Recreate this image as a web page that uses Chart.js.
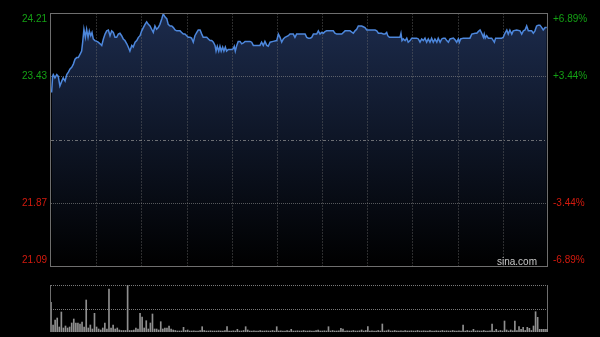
<!DOCTYPE html>
<html>
<head>
<meta charset="utf-8">
<script src="https://cdn.jsdelivr.net/npm/chart.js@4.4.0/dist/chart.umd.min.js"></script>
<style>
  html, body { margin: 0; padding: 0; background: #000; }
  .wrap { position: relative; width: 600px; height: 337px; background: #000; overflow: hidden; }
  #priceChart { position: absolute; left: 0; top: 0; }
  #volChart { position: absolute; left: 0; top: 275px; }
</style>
</head>
<body>
<div class="wrap">
  <canvas id="priceChart" width="600" height="275"></canvas>
  <canvas id="volChart" width="600" height="62"></canvas>
</div>
<script>
//------------data--------------------
const prevClose = 22.65;
const priceTicks = [21.09, 21.87, 22.65, 23.43, 24.21];
const sessionMinutes = 240;
const xDivisions = 11;

// minute of the session / last price
const minutes = [
  0.3, 0.8, 1.1, 1.9, 2.8, 3.5, 4.3, 5.2, 5.9, 6.8, 7.6, 8.4, 9.2, 10.0, 10.8, 11.6, 12.4, 13.2, 14.0, 14.8,
  15.3, 15.9, 16.6, 17.2, 17.9, 18.5, 19.2, 19.8, 20.4, 21.2, 22.1, 22.8, 23.7, 24.5, 25.3, 26.1, 26.9, 27.7, 28.5, 29.3,
  30.1, 30.9, 31.7, 32.5, 33.3, 34.1, 34.9, 35.7, 36.6, 37.3, 38.1, 39.0, 39.7, 40.6, 41.4, 42.2, 43.0, 43.8, 44.6, 45.4,
  46.2, 47.0, 47.8, 48.6, 49.4, 50.2, 51.0, 51.8, 52.6, 53.5, 54.2, 55.1, 55.9, 56.6, 57.5, 58.3, 59.1, 59.9, 60.7, 62.3,
  63.1, 63.9, 64.7, 65.5, 66.3, 67.1, 67.9, 68.7, 69.5, 70.4, 71.1, 72.0, 72.8, 73.5, 75.2, 76.0, 76.8, 77.6, 78.4, 79.2,
  79.7, 80.3, 81.0, 81.6, 82.2, 82.9, 83.5, 84.2, 84.8, 85.6, 87.3, 88.0, 88.5, 89.0, 89.7, 90.4, 91.3, 92.1, 92.9, 93.7,
  96.1, 96.9, 97.7, 100.1, 100.9, 101.7, 102.5, 103.3, 104.2, 104.9, 105.8, 107.3, 109.0, 109.8, 110.6, 111.4, 112.2, 113.0, 114.6, 115.4,
  117.0, 117.8, 118.6, 122.7, 123.5, 124.3, 125.1, 125.9, 126.7, 128.3, 129.1, 129.9, 130.7, 131.5, 132.3, 133.1, 136.3, 137.1, 138.0, 140.4,
  141.2, 142.0, 144.4, 146.0, 146.8, 147.6, 148.4, 150.0, 150.8, 151.6, 152.5, 156.5, 157.3, 158.1, 159.7, 160.5, 161.3, 162.1, 162.6, 163.4,
  168.5, 169.0, 169.5, 170.1, 171.0, 171.8, 172.5, 173.4, 174.2, 176.6, 177.4, 178.2, 179.0, 179.8, 180.6, 181.4, 182.2, 183.0, 183.8, 184.6,
  185.4, 186.3, 187.0, 187.9, 188.7, 189.4, 190.3, 191.1, 191.9, 192.7, 194.3, 195.1, 195.9, 196.7, 197.2, 197.8, 199.1, 202.3, 203.2, 204.8,
  205.6, 206.3, 207.2, 208.0, 208.8, 209.2, 209.7, 210.4, 211.2, 212.8, 213.6, 214.1, 214.7, 216.0, 217.6, 218.4, 219.2, 220.1, 220.8, 221.6,
  222.5, 223.2, 224.9, 226.5, 227.3, 228.1, 228.9, 229.7, 230.5, 232.1, 232.9, 233.7, 234.5, 235.3, 236.1, 237.0, 237.7, 238.6, 239.4
];
const prices = [
  23.23, 23.43, 23.45, 23.41, 23.45, 23.43, 23.31, 23.37, 23.41, 23.37, 23.45, 23.48, 23.52, 23.54, 23.58, 23.64, 23.66, 23.66, 23.70, 23.74,
  23.85, 24.01, 23.91, 24.01, 23.91, 23.99, 23.93, 23.97, 23.89, 23.87, 23.86, 23.85, 23.83, 23.81, 23.89, 23.95, 23.99, 24.00, 23.93, 23.99,
  23.97, 23.91, 23.91, 23.95, 23.96, 23.93, 23.89, 23.87, 23.83, 23.79, 23.74, 23.81, 23.79, 23.85, 23.87, 23.91, 23.93, 23.99, 24.03, 24.07,
  24.10, 24.07, 24.05, 24.01, 23.97, 24.05, 24.01, 24.03, 24.07, 24.14, 24.20, 24.16, 24.14, 24.07, 24.05, 24.05, 24.03, 24.00, 23.99, 23.99,
  23.97, 23.95, 23.95, 23.93, 23.91, 23.91, 23.90, 23.85, 23.93, 23.97, 24.00, 24.00, 23.95, 23.91, 23.91, 23.89, 23.87, 23.87, 23.85, 23.81,
  23.74, 23.80, 23.74, 23.80, 23.74, 23.79, 23.74, 23.79, 23.74, 23.76, 23.76, 23.77, 23.80, 23.74, 23.81, 23.86, 23.86, 23.83, 23.84, 23.86,
  23.86, 23.85, 23.81, 23.81, 23.81, 23.85, 23.81, 23.86, 23.81, 23.80, 23.85, 23.86, 23.87, 23.95, 23.91, 23.85, 23.89, 23.91, 23.93, 23.95,
  23.95, 23.91, 23.95, 23.95, 23.91, 23.90, 23.90, 23.91, 23.95, 23.95, 23.99, 23.95, 23.97, 23.96, 23.98, 23.99, 23.99, 23.96, 23.95, 23.95,
  23.97, 23.99, 23.99, 23.96, 23.99, 24.01, 24.05, 24.05, 24.04, 24.03, 24.00, 24.00, 23.99, 23.96, 23.96, 23.95, 23.95, 23.97, 23.93, 23.91,
  23.91, 23.96, 23.87, 23.89, 23.87, 23.90, 23.85, 23.87, 23.90, 23.90, 23.89, 23.85, 23.89, 23.87, 23.90, 23.85, 23.89, 23.85, 23.90, 23.85,
  23.89, 23.85, 23.90, 23.85, 23.89, 23.90, 23.90, 23.87, 23.85, 23.89, 23.90, 23.88, 23.85, 23.89, 23.85, 23.89, 23.90, 23.90, 23.95, 23.96,
  23.96, 23.98, 24.00, 23.96, 23.91, 23.95, 23.90, 23.93, 23.90, 23.90, 23.87, 23.85, 23.90, 23.90, 23.90, 23.91, 23.96, 24.00, 23.95, 24.00,
  23.95, 23.99, 24.00, 23.99, 23.95, 23.99, 24.00, 24.05, 23.99, 23.99, 23.96, 23.99, 24.05, 24.06, 24.06, 24.03, 24.00, 24.03, 24.03
];

// volume per minute, 0..240
const volumes = [
  2970, 700, 1200, 1400, 500, 2000, 400, 600, 400, 500,
  900, 1300, 900, 900, 800, 1000, 500, 3200, 400, 700,
  300, 1870, 500, 300, 200, 400, 900, 300, 4300, 400,
  700, 300, 400, 200, 150, 150, 150, 4700, 150, 150,
  200, 400, 300, 1870, 1500, 400, 1130, 300, 900, 1800,
  300, 300, 200, 1030, 300, 400, 400, 600, 300, 200,
  150, 100, 100, 100, 470, 150, 200, 100, 100, 120,
  100, 100, 150, 530, 150, 100, 100, 120, 100, 100,
  100, 120, 100, 100, 150, 530, 100, 100, 120, 100,
  270, 100, 100, 150, 530, 200, 100, 100, 120, 100,
  100, 150, 100, 100, 120, 100, 100, 150, 100, 530,
  100, 120, 100, 100, 150, 100, 270, 100, 100, 120,
  100, 100, 150, 100, 100, 120, 100, 100, 150, 200,
  100, 100, 120, 100, 530, 100, 150, 100, 100, 120,
  370, 300, 100, 120, 100, 100, 150, 100, 100, 120,
  200, 100, 150, 530, 100, 120, 100, 100, 150, 100,
  800, 100, 120, 200, 100, 100, 150, 100, 100, 120,
  100, 150, 100, 100, 120, 100, 100, 150, 100, 100,
  120, 100, 100, 150, 100, 100, 120, 100, 100, 150,
  100, 120, 100, 100, 150, 100, 100, 120, 100, 700,
  100, 150, 100, 100, 270, 100, 120, 100, 100, 150,
  100, 100, 120, 800, 100, 270, 100, 150, 100, 1100,
  200, 100, 200, 120, 1100, 150, 530, 270, 470, 150,
  470, 370, 150, 600, 2030, 1470, 270, 270, 270, 270,
  270
];

const upColor = '#14a014';
const downColor = '#d41a0e';
const labelFont = '10px "Liberation Sans", Arial, sans-serif';

window.addEventListener('load', () => { main() });

const crisp = v => Math.round(v) + 0.5;

function hLine(ctx, x1, x2, y) {
  ctx.beginPath(); ctx.moveTo(x1, y); ctx.lineTo(x2, y); ctx.stroke();
}
function vLine(ctx, x, y1, y2) {
  ctx.beginPath(); ctx.moveTo(x, y1); ctx.lineTo(x, y2); ctx.stroke();
}

//------------grid, frame and labels of the price panel--------------------
const priceDecor = {
  id: 'priceDecor',
  beforeDatasetsDraw(chart) {
    const { ctx, chartArea: a, scales: { x, y } } = chart;
    ctx.save();
    ctx.lineWidth = 1;

    // vertical dotted lines
    ctx.strokeStyle = 'rgba(110,110,110,0.4)';
    ctx.setLineDash([2, 1]);
    for (let i = 1; i < xDivisions; i++) {
      const xp = crisp(x.getPixelForValue(i * sessionMinutes / xDivisions));
      vLine(ctx, xp, a.top, a.bottom);
    }

    // horizontal lines
    priceTicks.forEach(v => {
      if (v === y.min || v === y.max) return;
      const yp = crisp(y.getPixelForValue(v));
      if (v === prevClose) {
        ctx.strokeStyle = 'rgba(150,150,150,0.7)';
        ctx.setLineDash([3, 2, 1, 2]);
      } else {
        ctx.strokeStyle = 'rgba(140,140,140,0.6)';
        ctx.setLineDash([1, 1]);
      }
      hLine(ctx, a.left, a.right, yp);
    });
    ctx.restore();
  },
  afterDraw(chart) {
    const { ctx, chartArea: a, scales: { y } } = chart;
    ctx.save();
    ctx.strokeStyle = '#6e6e6e';
    ctx.lineWidth = 1;
    ctx.strokeRect(crisp(a.left) - 1, crisp(a.top), Math.round(a.right - a.left), Math.round(a.bottom - a.top));

    ctx.font = labelFont;
    ctx.textBaseline = 'middle';
    priceTicks.forEach(v => {
      if (v === prevClose) return;
      let yp = y.getPixelForValue(v);
      yp = Math.min(Math.max(yp, a.top + 6), a.bottom - 5.5);
      ctx.fillStyle = v > prevClose ? upColor : downColor;
      ctx.textAlign = 'right';
      ctx.fillText(v.toFixed(2), a.left - 4, yp);
      const pct = (v / prevClose - 1) * 100;
      ctx.textAlign = 'left';
      ctx.fillText((pct > 0 ? '+' : '') + pct.toFixed(2) + '%', a.right + 5, yp);
    });

    ctx.fillStyle = '#c8c8c8';
    ctx.textAlign = 'right';
    ctx.textBaseline = 'alphabetic';
    ctx.fillText('sina.com', a.right - 11, a.bottom - 1.5);
    ctx.restore();
  }
};

//------------grid of the volume panel--------------------
const volDecor = {
  id: 'volDecor',
  beforeDatasetsDraw(chart) {
    const { ctx, chartArea: a, scales: { y } } = chart;
    ctx.save();
    ctx.lineWidth = 1;
    ctx.strokeStyle = '#7a7a7a';
    ctx.setLineDash([1, 1]);
    [y.max, y.max / 2].forEach(v => {
      hLine(ctx, a.left, a.right, crisp(y.getPixelForValue(v)));
    });
    ctx.setLineDash([]);
    ctx.strokeStyle = '#6e6e6e';
    vLine(ctx, crisp(a.left) - 1, a.top, a.bottom);
    vLine(ctx, crisp(a.right) - 1, a.top, a.bottom);
    ctx.restore();
  }
};

function main() {

  //------------price line--------------------
  const priceCtx = document.getElementById('priceChart').getContext('2d');
  new Chart(priceCtx, {
    type: 'line',
    data: {
      datasets: [{
        data: minutes.map((m, i) => ({ x: m, y: prices[i] })),
        borderColor: '#4d87dc',
        borderWidth: 1.5,
        pointRadius: 0,
        tension: 0,
        fill: 'start',
        backgroundColor: (c) => {
          const a = c.chart.chartArea;
          if (!a) return 'transparent';
          const g = c.chart.ctx.createLinearGradient(0, a.top, 0, a.bottom);
          g.addColorStop(0, '#1c2b4c');
          g.addColorStop(1, '#000000');
          return g;
        }
      }]
    },
    options: {
      responsive: false,
      animation: false,
      events: [],
      layout: { padding: { left: 51, right: 52, top: 13, bottom: 9 } },
      scales: {
        x: { type: 'linear', min: 0, max: sessionMinutes, display: false },
        y: { type: 'linear', min: priceTicks[0], max: priceTicks[priceTicks.length - 1], display: false }
      },
      plugins: {
        legend: { display: false },
        tooltip: { enabled: false },
        filler: { drawTime: 'beforeDatasetsDraw' }
      }
    },
    plugins: [priceDecor]
  });

  //------------volume bars--------------------
  const volCtx = document.getElementById('volChart').getContext('2d');
  new Chart(volCtx, {
    type: 'bar',
    data: {
      labels: volumes.map((v, i) => i),
      datasets: [{
        data: volumes,
        backgroundColor: '#8f8f8f',
        barThickness: 1
      }]
    },
    options: {
      responsive: false,
      animation: false,
      events: [],
      layout: { padding: { left: 51, right: 52, top: 10, bottom: 5 } },
      scales: {
        x: { display: false, offset: false },
        y: { display: false, min: 0, max: Math.max(...volumes) }
      },
      plugins: {
        legend: { display: false },
        tooltip: { enabled: false }
      }
    },
    plugins: [volDecor]
  });
}
</script>
</body>
</html>
